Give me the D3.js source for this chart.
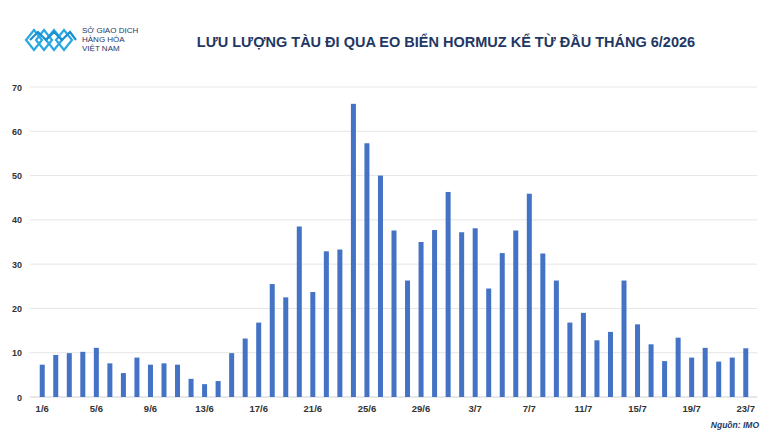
<!DOCTYPE html>
<html><head><meta charset="utf-8">
<script src="https://cdn.jsdelivr.net/npm/d3@7"></script>
<style>body{margin:0;background:#fff}svg{display:block;font-family:Arial,"Liberation Sans",sans-serif}</style>
</head><body><svg id="c" width="777" height="437"></svg>
<script>
const categories = [];
for (let d=1; d<=30; d++) categories.push(d+"/6");
for (let d=1; d<=23; d++) categories.push(d+"/7");
const values = [7.3,9.5,9.9,10.2,11.1,7.6,5.4,8.9,7.3,7.6,7.3,4.1,2.9,3.6,9.9,13.2,16.8,25.5,22.5,38.5,23.7,32.9,33.3,66.2,57.3,50.0,37.6,26.3,35.0,37.7,
 46.3,37.2,38.1,24.5,32.5,37.6,45.9,32.4,26.3,16.8,19.0,12.8,14.7,26.3,16.4,11.9,8.1,13.4,8.9,11.1,8.0,8.9,11.0];
const yTicks = [0,10,20,30,40,50,60,70];
const title = "LƯU LƯỢNG TÀU ĐI QUA EO BIỂN HORMUZ KỂ TỪ ĐẦU THÁNG 6/2026";

const svg = d3.select("#c");
const x = d3.scaleBand().domain(categories).range([31.2,756.8]).padding(0.63);
const y = d3.scaleLinear().domain([0,70]).range([397,87]);

svg.append("g").selectAll("line").data(yTicks).join("line")
 .attr("x1",30).attr("x2",757).attr("y1",d=>y(d)).attr("y2",d=>y(d))
 .attr("stroke",d=>d===0?"#d0d0d0":"#e6e6e6").attr("stroke-width",1);
svg.append("g").selectAll("text").data(yTicks).join("text")
 .attr("x",22).attr("y",d=>y(d)+3.5).attr("text-anchor","end")
 .attr("font-size",9).attr("font-weight","bold").attr("fill","#333").text(d=>d);

svg.append("g").selectAll("rect").data(values).join("rect")
 .attr("x",(d,i)=>x(categories[i])).attr("width",x.bandwidth())
 .attr("y",d=>y(d)).attr("height",d=>y(0)-y(d)).attr("fill","#4472c4");

svg.append("g").selectAll("text").data(categories.filter((c,i)=>i%4===0)).join("text")
 .attr("x",d=>x(d)+x.bandwidth()/2).attr("y",412).attr("text-anchor","middle")
 .attr("font-size",9.5).attr("font-weight","bold").attr("fill","#333").text(d=>d);

svg.append("text").attr("x",446).attr("y",47).attr("text-anchor","middle")
 .attr("font-size",14.5).attr("font-weight","bold").attr("fill","#1f3864").text(title);
svg.append("text").attr("x",759).attr("y",428).attr("text-anchor","end")
 .attr("font-size",8.5).attr("font-weight","bold").attr("font-style","italic").attr("fill","#1f3864").text("Nguồn: IMO");

// logo
const lg = svg.append("g").attr("fill","none").attr("stroke","#29a8e0").attr("stroke-width",2.2);
for (let k=0;k<4;k++){
  const ox=26+k*10;
  lg.append("path").attr("d",`M${ox},40 L${ox+8},30 L${ox+16},40 L${ox+8},50 Z`);
}
lg.append("path").attr("d","M30,40 L38,32 L46,40 L54,32 L62,40 L70,32 L76,40").attr("stroke","#1b8fd0");
svg.append("g").selectAll("text").data(["SỞ GIAO DỊCH","HÀNG HÓA","VIỆT NAM"]).join("text")
 .attr("x",82).attr("y",(d,i)=>33+i*9).attr("font-size",8).attr("fill","#1f3864").text(d=>d);
</script></body></html>
